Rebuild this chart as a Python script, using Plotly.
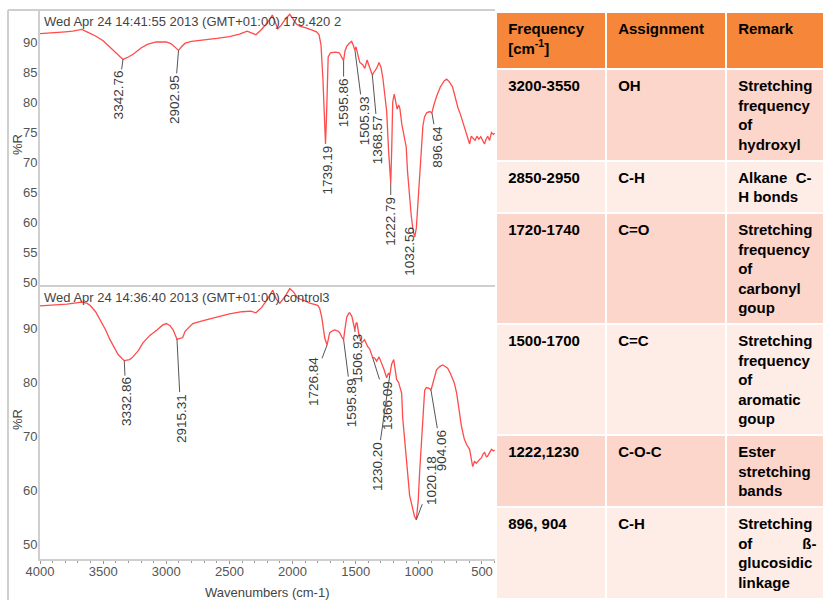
import numpy as np
import plotly.graph_objects as go

# ---------------- data ----------------
wn_top = [4000, 3900, 3800, 3740, 3700, 3668, 3620, 3560, 3500, 3440, 3390, 3342.76, 3300, 3260, 3200,
          3150, 3080, 3000, 2960, 2930, 2902.95, 2880, 2850, 2800, 2700, 2600, 2500, 2420, 2360, 2320,
          2290, 2250, 2200, 2160, 2140, 2117, 2090, 2050, 2022, 2000, 1970, 1940, 1900, 1850, 1810,
          1790, 1775, 1760, 1748, 1739.19, 1732, 1725, 1718, 1700, 1660, 1630, 1615, 1595.86, 1585,
          1570, 1550, 1532, 1520, 1510, 1505.93, 1498, 1485, 1468, 1445, 1428, 1410, 1395, 1380,
          1368.57, 1355, 1335, 1315, 1300, 1285, 1270, 1255, 1240, 1230, 1222.79, 1215, 1207, 1195,
          1185, 1172, 1160, 1150, 1135, 1120, 1100, 1090, 1075, 1060, 1045, 1032.56, 1020, 1005, 990,
          978, 968, 955, 938, 915, 896.64, 885, 860, 830, 800, 780, 760, 733, 710, 690, 670, 650, 630,
          610, 598, 585, 570, 555, 540, 525, 510, 495, 480, 470, 455, 440, 425, 410, 400]
r_top = [91.4, 91.5, 91.7, 91.8, 92.0, 92.1, 91.6, 91.0, 90.2, 89.0, 87.9, 87.1, 87.5, 88.0, 89.0,
         89.6, 90.0, 90.0, 89.7, 89.2, 88.6, 89.2, 89.8, 90.1, 90.3, 90.6, 90.9, 91.3, 91.8, 91.4,
         91.2, 92.0, 93.2, 94.5, 93.4, 92.2, 92.8, 94.0, 94.6, 94.0, 93.0, 92.6, 92.4, 92.0, 91.7,
         91.2, 89.5, 84.0, 77.0, 73.0, 77.0, 85.0, 87.5, 88.2, 88.3, 88.2, 87.5, 86.9, 88.5,
         89.3, 89.8, 90.1, 89.5, 88.9, 88.6, 89.2, 87.9, 86.6, 86.2, 85.6, 87.0, 86.2, 85.2,
         84.5, 85.0, 85.6, 86.6, 85.8, 84.0, 81.5, 78.5, 72.0, 68.0, 66.5, 72.0, 80.0, 81.3,
         80.4, 78.8, 79.5, 78.9, 76.3, 74.5, 72.5, 68.5, 64.5, 61.0, 58.5, 57.5, 59.0, 64.0, 69.5,
         73.5, 76.0, 77.5, 78.2, 78.4, 78.2, 79.2, 80.9, 82.5, 83.5, 83.8, 83.4, 82.5, 80.6, 79.0,
         77.9, 76.5, 75.0, 73.5, 73.0, 74.3, 74.0, 73.6, 74.3, 73.8, 74.2, 73.5, 73.0, 73.7, 74.3,
         73.6, 74.9, 74.6, 74.8]

wn_bot = [4000, 3900, 3786, 3700, 3668, 3630, 3600, 3560, 3525, 3480, 3446, 3410, 3380, 3332.86, 3290,
          3264, 3220, 3185, 3130, 3074, 3030, 3000, 2970, 2945, 2930, 2915.31, 2895, 2870, 2850, 2820,
          2790, 2700, 2600, 2500, 2400, 2330, 2290, 2244, 2200, 2157, 2130, 2101, 2060, 2022, 1990,
          1959, 1900, 1864, 1801, 1785, 1769, 1755, 1745, 1726.84, 1715, 1706, 1680, 1666, 1640, 1627,
          1610, 1595.89, 1585, 1571, 1555, 1547, 1530, 1520, 1506.93, 1498, 1490, 1475, 1453, 1430,
          1405, 1390, 1373, 1366.09, 1350, 1334, 1315, 1294, 1275, 1255, 1240, 1230.20, 1215, 1199,
          1185, 1176, 1160, 1150, 1136, 1128, 1110, 1090, 1073, 1049, 1035, 1020.18, 1005, 994, 980,
          970, 960, 954, 940, 930, 915, 904.06, 885, 860, 835, 812, 790, 772, 750, 720, 701, 680, 662,
          640, 620, 598, 580, 574, 559, 545, 519, 505, 490, 479, 465, 456, 440, 424, 410, 400]
r_bot = [94.3, 94.4, 94.6, 94.9, 95.0, 94.8, 94.3, 93.2, 91.7, 89.8, 88.0, 86.4, 85.2, 84.1, 84.3,
         84.8, 86.0, 87.4, 88.8, 89.8, 90.7, 91.0, 90.6, 89.8, 88.8, 88.1, 88.2, 88.4, 89.6, 90.4,
         91.0, 91.6, 92.2, 92.8, 93.2, 93.3, 93.0, 94.0, 95.5, 97.2, 95.6, 94.8, 96.0, 97.5, 96.8,
         95.7, 95.2, 94.8, 94.4, 93.8, 92.2, 90.0, 88.3, 87.0, 88.2, 89.3, 89.7, 89.8, 89.6, 89.3,
         88.5, 88.0, 90.0, 92.2, 92.9, 93.0, 92.3, 91.0, 89.8, 91.0, 91.2, 89.0, 87.4, 88.0,
         86.7, 86.3, 84.9, 84.7, 84.6, 84.0, 84.8, 83.7, 82.4, 80.9, 81.8, 81.4, 83.5, 84.3,
         82.5, 80.6, 80.0, 79.3, 78.0, 73.5, 68.0, 63.5, 59.0, 56.5, 55.2, 54.5, 58.0, 63.3, 68.0,
         72.0, 76.5, 78.6, 79.1, 79.0, 78.9, 78.6, 80.3, 82.4, 83.0, 83.3, 83.0, 82.7, 81.7, 80.0, 78.1, 75.0, 71.8,
         69.5, 68.4, 67.6, 65.2, 64.4, 65.4, 65.0, 65.7, 66.0, 66.8, 67.0, 66.2, 66.3, 67.0, 67.6, 67.3, 67.5]

peaks_top = [3342.76, 2902.95, 1739.19, 1595.86, 1505.93, 1368.57, 1222.79, 1032.56, 896.64]
peaks_bot = [3332.86, 2915.31, 1726.84, 1595.89, 1506.93, 1366.09, 1230.20, 1020.18, 904.06]

yticks_top = [50, 55, 60, 65, 70, 75, 80, 85, 90]
yticks_bot = [50, 60, 70, 80, 90]
xticks = [4000, 3500, 3000, 2500, 2000, 1500, 1000, 500]

header_top = "Wed Apr 24 14:41:55 2013 (GMT+01:00) 179.420 2"
header_bot = "Wed Apr 24 14:36:40 2013 (GMT+01:00) control3"
x_title = "Wavenumbers (cm-1)"
y_title = "%R"

table_header = ["Frequency<br>[cm<sup>-1</sup>]", "Assignment", "Remark"]
col_frequency = ["3200-3550", "2850-2950", "1720-1740", "1500-1700", "1222,1230", "896, 904"]
col_assignment = ["OH", "C-H", "C=O", "C=C", "C-O-C", "C-H"]
col_remark = ["Stretching<br>frequency<br>of<br>hydroxyl",
              "Alkane\u00a0\u00a0C-<br>H bonds",
              "Stretching<br>frequency<br>of<br>carbonyl<br>goup",
              "Stretching<br>frequency<br>of<br>aromatic<br>goup",
              "Ester<br>stretching<br>bands",
              "Stretching<br>of\u00a0\u00a0\u00a0\u00a0\u00a0\u00a0\u00a0\u00a0\u00a0\u00a0\u00a0\u00a0ß-<br>glucosidic<br>linkage"]

# label offsets (pixels, text centre relative to peak point) -- layout only
off_top = [(-5, 36), (-4, 49), (2, 26), (0, 42), (9, 70), (6, 65), (0, 38), (-6, 14), (6, 34)]
off_bot = [(2, 41), (4, 79), (-14, 37), (8, 63), (3, 28), (15, 48), (-13, 91), (15, -39), (10, 60)]

# ---------------- figure ----------------
W, H = 824, 600
FONT = "Liberation Sans, Arial, sans-serif"
RED = "#FF4B4B"
AXC = "#cfcfcf"

fig = go.Figure()
fig.add_trace(go.Scatter(x=wn_top, y=r_top, mode="lines", line=dict(color=RED, width=1.3),
                         xaxis="x", yaxis="y", hoverinfo="skip", showlegend=False))
fig.add_trace(go.Scatter(x=wn_bot, y=r_bot, mode="lines", line=dict(color=RED, width=1.3),
                         xaxis="x2", yaxis="y2", hoverinfo="skip", showlegend=False))


def cell(s):
    return "<br>".join("\u00a0" + "<b>" + part + "</b>" for part in s.split("<br>"))


fig.add_trace(go.Table(
    domain=dict(x=[496 / W, 1.0], y=[0.0, 1 - 12 / H]),
    columnwidth=[110, 120, 98],
    header=dict(values=[cell(v) for v in table_header],
                fill_color="#F5863A", line=dict(color="white", width=2),
                align="left", height=57,
                font=dict(family=FONT, size=15, color="black")),
    cells=dict(values=[[cell(v) for v in col_frequency],
                       [cell(v) for v in col_assignment],
                       [cell(v) for v in col_remark]],
               fill_color=[["#FDD6CB", "#FEECE6"] * 3],
               line=dict(color="white", width=2),
               align="left", height=20,
               font=dict(family=FONT, size=15, color="black")),
))

x_range = [4000, 397]
dom_x = [40 / W, 495 / W]
tickfont = dict(family=FONT, size=13, color="#555")

fig.update_layout(
    template="none",
    width=W, height=H, margin=dict(l=0, r=0, t=0, b=0, pad=0, autoexpand=False),
    paper_bgcolor="white", plot_bgcolor="white",
    font=dict(family=FONT, size=13, color="#444"),
    xaxis=dict(domain=dom_x, range=x_range, anchor="y", showticklabels=False, ticks="",
               showline=True, linecolor=AXC, linewidth=2, showgrid=False, zeroline=False,
               automargin=False),
    yaxis=dict(domain=[1 - 285 / H, 1 - 10 / H], range=[49.5, 95.33], anchor="x",
               tickvals=yticks_top, ticks="", showline=True, linecolor=AXC, linewidth=2,
               showgrid=False, zeroline=False, tickfont=tickfont, automargin=False,
               ticklabelstandoff=-2),
    xaxis2=dict(domain=dom_x, range=x_range, anchor="y2", tickvals=xticks, ticks="outside",
                ticklen=3, tickcolor="#999", showline=True, linecolor=AXC, linewidth=2,
                showgrid=False, zeroline=False, tickfont=tickfont, automargin=False,
                ticklabelstandoff=-4,
                minor=dict(tickmode="linear", tick0=0, dtick=100, ticks="outside", ticklen=2,
                           tickcolor="#999", showgrid=False)),
    yaxis2=dict(domain=[1 - 559 / H, 1 - 287 / H], range=[47.2, 97.8], anchor="x2",
                tickvals=yticks_bot, ticks="", showline=True, linecolor=AXC, linewidth=2,
                showgrid=False, zeroline=False, tickfont=tickfont, automargin=False,
                ticklabelstandoff=-2),
)

ann = []
wt_asc, rt_asc = wn_top[::-1], r_top[::-1]
wb_asc, rb_asc = wn_bot[::-1], r_bot[::-1]
for p, (ax, ay) in zip(peaks_top, off_top):
    ann.append(dict(x=p, y=float(np.interp(p, wt_asc, rt_asc)), xref="x", yref="y",
                    text=f"{p:.2f}", textangle=-90, showarrow=True, arrowhead=0, arrowwidth=1,
                    arrowcolor="#555", ax=ax, ay=ay, standoff=0,
                    font=dict(family=FONT, size=13.5, color="#3a3a3a")))
for p, (ax, ay) in zip(peaks_bot, off_bot):
    ann.append(dict(x=p, y=float(np.interp(p, wb_asc, rb_asc)), xref="x2", yref="y2",
                    text=f"{p:.2f}", textangle=-90, showarrow=True, arrowhead=0, arrowwidth=1,
                    arrowcolor="#555", ax=ax, ay=ay, standoff=0,
                    font=dict(family=FONT, size=13.5, color="#3a3a3a")))

ann.append(dict(x=42 / W, y=1 - 22 / H, xref="paper", yref="paper", text=header_top,
                showarrow=False, xanchor="left", yanchor="middle",
                font=dict(family=FONT, size=13, color="#444")))
ann.append(dict(x=42 / W, y=1 - 297 / H, xref="paper", yref="paper", text=header_bot,
                showarrow=False, xanchor="left", yanchor="middle",
                font=dict(family=FONT, size=13, color="#444")))
ann.append(dict(x=267 / W, y=1 - 592 / H, xref="paper", yref="paper", text=x_title,
                showarrow=False, xanchor="center", yanchor="middle",
                font=dict(family=FONT, size=13, color="#444")))
for yc in (145, 420):
    ann.append(dict(x=17 / W, y=1 - yc / H, xref="paper", yref="paper", text=y_title,
                    textangle=-90, showarrow=False, xanchor="center", yanchor="middle",
                    font=dict(family=FONT, size=13, color="#444")))
fig.update_layout(annotations=ann)

fig.update_layout(shapes=[
    dict(type="line", xref="paper", yref="paper", x0=8 / W, x1=8 / W, y0=0, y1=1 - 10 / H,
         line=dict(color=AXC, width=2)),
    dict(type="line", xref="paper", yref="paper", x0=8 / W, x1=495 / W, y0=1 - 10 / H, y1=1 - 10 / H,
         line=dict(color=AXC, width=2)),
])

fig.write_html("out.html", config={"displayModeBar": False},
               post_script="document.body.style.margin='0';"
                           "document.documentElement.style.overflow='hidden';")
